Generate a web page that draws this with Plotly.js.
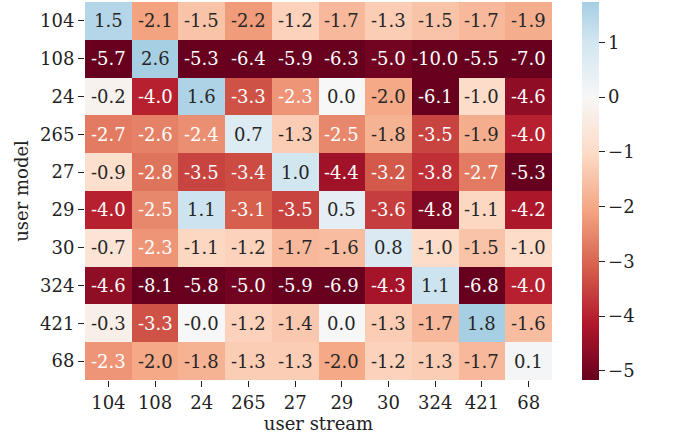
<!DOCTYPE html>
<html>
<head>
<meta charset="utf-8">
<script src="https://cdn.plot.ly/plotly-3.0.1.min.js"></script>
<style>
  html, body { margin: 0; padding: 0; background: #fff; }
  #chart { width: 685px; height: 434px; }
</style>
</head>
<body>
<div id="chart"></div>
<script>
// row / column labels (same set of users)
const models = ["104", "108", "24", "265", "27", "29", "30", "324", "421", "68"];
const streams = ["104", "108", "24", "265", "27", "29", "30", "324", "421", "68"];

// one array per user model row
const row104 = [1.5, -2.1, -1.5, -2.2, -1.2, -1.7, -1.3, -1.5, -1.7, -1.9];
const row108 = [-5.7, 2.6, -5.3, -6.4, -5.9, -6.3, -5.0, -10.0, -5.5, -7.0];
const row24 = [-0.2, -4.0, 1.6, -3.3, -2.3, 0.0, -2.0, -6.1, -1.0, -4.6];
const row265 = [-2.7, -2.6, -2.4, 0.7, -1.3, -2.5, -1.8, -3.5, -1.9, -4.0];
const row27 = [-0.9, -2.8, -3.5, -3.4, 1.0, -4.4, -3.2, -3.8, -2.7, -5.3];
const row29 = [-4.0, -2.5, 1.1, -3.1, -3.5, 0.5, -3.6, -4.8, -1.1, -4.2];
const row30 = [-0.7, -2.3, -1.1, -1.2, -1.7, -1.6, 0.8, -1.0, -1.5, -1.0];
const row324 = [-4.6, -8.1, -5.8, -5.0, -5.9, -6.9, -4.3, 1.1, -6.8, -4.0];
const row421 = [-0.3, -3.3, -0.0, -1.2, -1.4, 0.0, -1.3, -1.7, 1.8, -1.6];
const row68 = [-2.3, -2.0, -1.8, -1.3, -1.3, -2.0, -1.2, -1.3, -1.7, 0.1];

const z = [row104, row108, row24, row265, row27, row29, row30, row324, row421, row68];

// RdBu centred at 0, truncated to the colour range shown
const zmin = -5.17, zmax = 1.74;
const colorscale = [
  [0.0, "#67001f"],
  [0.1497, "#b2182b"],
  [0.2993, "#d6604d"],
  [0.449, "#f4a582"],
  [0.5987, "#fddbc7"],
  [0.7482, "#f7f7f7"],
  [0.8978, "#d1e5f0"],
  [1.0, "#a6cfe4"]
];

const font = "DejaVu Serif, serif";
const fs = 18;

const trace = {
  type: "heatmap",
  x: streams,
  y: models,
  z: z,
  zmin: zmin,
  zmax: zmax,
  colorscale: colorscale,
  colorbar: {
    x: 1.064, xanchor: "left", xpad: 0,
    y: 0.5, len: 1, ypad: 0,
    thickness: 17,
    outlinewidth: 0,
    ticks: "outside", ticklen: 6, tickwidth: 1.3, tickcolor: "#222",
    tickvals: [1, 0, -1, -2, -3, -4, -5],
    tickfont: { family: font, size: fs, color: "#222" }
  }
};

// cell labels (category index positions), white text on dark cells
const annotations = [];
models.forEach((m, i) => {
  streams.forEach((s, j) => {
    const v = z[i][j];
    let txt = v.toFixed(1);
    if (Object.is(v, -0)) txt = "-0.0";
    annotations.push({
      x: j, y: i, xref: "x", yref: "y",
      text: txt, showarrow: false,
      font: { family: font, size: fs, color: v < -2.25 ? "#ffffff" : "#262626" }
    });
  });
});

const layout = {
  width: 685,
  height: 434,
  margin: { l: 85, r: 133, t: 2, b: 54 },
  paper_bgcolor: "#fff",
  plot_bgcolor: "#fff",
  font: { family: font, size: fs, color: "#222" },
  xaxis: {
    type: "category",
    categoryorder: "array", categoryarray: streams,
    showgrid: false, zeroline: false, showline: false,
    ticks: "outside", ticklen: 6, tickwidth: 1.3, tickcolor: "#222",
    tickfont: { family: font, size: fs },
    title: { text: "user stream", font: { family: font, size: fs }, standoff: 2 }
  },
  yaxis: {
    type: "category",
    categoryorder: "array", categoryarray: models,
    autorange: "reversed",
    showgrid: false, zeroline: false, showline: false,
    ticks: "outside", ticklen: 6, tickwidth: 1.3, tickcolor: "#222",
    tickfont: { family: font, size: fs },
    title: { text: "user model", font: { family: font, size: fs }, standoff: 6 }
  },
  annotations: annotations
};

Plotly.newPlot("chart", [trace], layout, { displayModeBar: false });
</script>
</body>
</html>
